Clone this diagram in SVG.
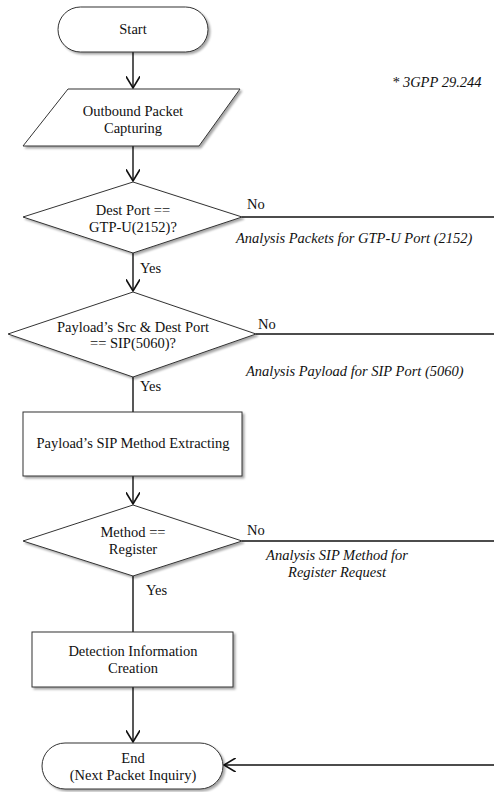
<svg xmlns="http://www.w3.org/2000/svg" width="494" height="792" viewBox="0 0 494 792">
<style>
text{font-family:"Times New Roman","Liberation Serif","DejaVu Serif",serif;font-size:14.5px;fill:#111}
.c{text-anchor:middle}
.i{font-style:italic}
.shape{fill:#fff;stroke:#333;stroke-width:1;filter:url(#sh)}
.edge{fill:none;stroke:#111;stroke-width:1.4}
</style>
<defs>
<filter id="sh" x="-10%" y="-10%" width="125%" height="130%">
<feDropShadow dx="2" dy="2" stdDeviation="1.2" flood-color="#000" flood-opacity="0.35"/>
</filter>
<marker id="ah" markerUnits="userSpaceOnUse" markerWidth="14" markerHeight="14" refX="10" refY="6" orient="auto" viewBox="0 0 12 12">
<path d="M0,0 L10,6 L0,12" fill="none" stroke="#111" stroke-width="1.4"/>
</marker>
</defs>
<g id="connectors">
<line class="edge" x1="133" y1="52" x2="133" y2="88" marker-end="url(#ah)"/>
<line class="edge" x1="133" y1="146" x2="133" y2="181" marker-end="url(#ah)"/>
<line class="edge" x1="133" y1="253" x2="133" y2="291" marker-end="url(#ah)"/>
<line class="edge" x1="133" y1="377" x2="133" y2="412"/>
<line class="edge" x1="133" y1="476" x2="133" y2="504" marker-end="url(#ah)"/>
<line class="edge" x1="133" y1="576" x2="133" y2="632"/>
<line class="edge" x1="133" y1="687" x2="133" y2="742" marker-end="url(#ah)"/>
<line class="edge" x1="242" y1="217" x2="494" y2="217"/>
<line class="edge" x1="256" y1="334" x2="494" y2="334"/>
<line class="edge" x1="242" y1="541" x2="494" y2="541"/>
<line class="edge" x1="494" y1="765" x2="224" y2="765" marker-end="url(#ah)"/>
<text x="247" y="209">No</text>
<text x="258" y="329">No</text>
<text x="247" y="535">No</text>
<text x="140" y="273">Yes</text>
<text x="140" y="391">Yes</text>
<text x="146" y="595">Yes</text>
<text class="i" x="236" y="243">Analysis Packets for GTP-U Port (2152)</text>
<text class="i" x="246" y="376">Analysis Payload for SIP Port (5060)</text>
<text class="i c" x="337" y="560">Analysis SIP Method for</text>
<text class="i c" x="337" y="577">Register Request</text>
</g>
<g id="note">
<text class="i" x="392" y="87">* 3GPP 29.244</text>
</g>
<g id="start">
<rect class="shape" x="58" y="7" width="150" height="45" rx="22.5"/>
<text class="c" x="133" y="34">Start</text>
</g>
<g id="capture">
<polygon class="shape" points="68,89 240,89 199,146 23,146"/>
<text class="c" x="133" y="116">Outbound Packet</text>
<text class="c" x="133" y="133">Capturing</text>
</g>
<g id="dec1">
<polygon class="shape" points="133,182 242,217 133,253 23,217"/>
<text class="c" x="133" y="215">Dest Port ==</text>
<text class="c" x="133" y="232">GTP-U(2152)?</text>
</g>
<g id="dec2">
<polygon class="shape" points="133,292 256,334 133,377 8,334"/>
<text class="c" x="133" y="332">Payload’s Src &amp; Dest Port</text>
<text class="c" x="133" y="348">== SIP(5060)?</text>
</g>
<g id="extract">
<rect class="shape" x="23" y="412" width="219" height="64"/>
<text class="c" x="133" y="448">Payload’s SIP Method Extracting</text>
</g>
<g id="dec3">
<polygon class="shape" points="133,505 242,541 133,576 23,541"/>
<text class="c" x="133" y="537">Method ==</text>
<text class="c" x="133" y="554">Register</text>
</g>
<g id="detect">
<rect class="shape" x="32" y="632" width="201" height="55"/>
<text class="c" x="133" y="656">Detection Information</text>
<text class="c" x="133" y="673">Creation</text>
</g>
<g id="end">
<rect class="shape" x="42" y="743" width="181" height="46" rx="23"/>
<text class="c" x="133" y="763">End</text>
<text class="c" x="133" y="780">(Next Packet Inquiry)</text>
</g>
</svg>
